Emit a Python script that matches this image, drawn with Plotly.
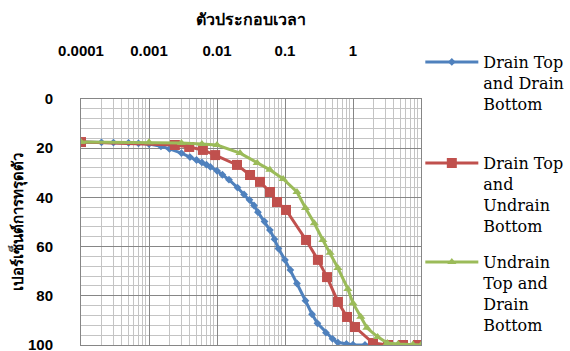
import plotly.graph_objects as go

# Time factor (x) and percent settlement (y) for the three drainage cases
blue_name = "Drain Top<br>and Drain<br>Bottom"
red_name = "Drain Top<br>and<br>Undrain<br>Bottom"
green_name = "Undrain<br>Top and<br>Drain<br>Bottom"

blue_x = [0.0001, 0.0002, 0.0003, 0.0005, 0.0007, 0.001, 0.0015, 0.002, 0.003, 0.004,
          0.005, 0.006, 0.007, 0.008, 0.01, 0.012, 0.015, 0.02, 0.025, 0.03, 0.035,
          0.04, 0.05, 0.06, 0.07, 0.08, 0.1, 0.12, 0.15, 0.2, 0.25, 0.3, 0.4, 0.5,
          0.6, 0.8, 1.0, 1.5, 2.0]
blue_y = [17.5, 17.6, 17.7, 17.8, 18.0, 18.3, 19.2, 20.3, 22.0, 23.6,
          24.8, 25.8, 26.7, 27.6, 29.2, 30.8, 32.8, 36.0, 38.8, 41.0, 43.3,
          46.0, 49.8, 53.3, 57.0, 60.8, 65.4, 69.5, 75.0, 82.0, 87.5, 91.2, 95.0, 97.5,
          99.0, 99.6, 99.9, 100, 100]

red_x = [0.0001, 0.0024, 0.0039, 0.0062, 0.0094, 0.0197, 0.0306, 0.0429, 0.0602, 0.0763,
         0.1035, 0.204, 0.305, 0.415, 0.601, 0.817, 1.07, 1.97, 3.27, 5.44, 9.04]
red_y = [17.5, 18.7, 19.5, 20.7, 22.8, 26.8, 30.9, 33.7, 37.8, 41.9,
         45.1, 57.3, 65.4, 72.4, 82.5, 88.6, 92.7, 99.2, 100, 100, 100]

green_x = [0.0001, 0.001, 0.003, 0.006, 0.01, 0.0218, 0.039, 0.06, 0.094, 0.15,
           0.2, 0.27, 0.36, 0.46, 0.6, 0.84, 1.0, 1.3, 1.6, 2.3, 3.2, 4.6, 7.6, 10]
green_y = [17.5, 17.6, 17.9, 18.3, 18.7, 22.0, 26.0, 28.8, 32.5, 37.8,
           44.3, 50.5, 57.3, 62.5, 68.7, 77.2, 83.0, 88.5, 93.0, 96.7, 99.2, 99.6, 99.8, 100]

x_tickvals = [0.0001, 0.001, 0.01, 0.1, 1]
x_ticktext = ["0.0001", "0.001", "0.01", "0.1", "1"]
y_tickvals = [0, 20, 40, 60, 80, 100]

x_title = "ตัวประกอบเวลา"
y_title = "เปอร์เซ็นต์การทรุดตัว"

BLUE = "#4F81BD"
RED = "#C0504D"
GREEN = "#9BBB59"

fig = go.Figure()
fig.add_trace(go.Scatter(x=blue_x, y=blue_y, name=blue_name, mode="lines+markers",
                         line=dict(color=BLUE, width=3),
                         marker=dict(symbol="diamond", size=6, color=BLUE),
                         legend="legend"))
fig.add_trace(go.Scatter(x=red_x, y=red_y, name=red_name, mode="lines+markers",
                         line=dict(color=RED, width=3),
                         marker=dict(symbol="square", size=10, color=RED),
                         legend="legend2"))
fig.add_trace(go.Scatter(x=green_x, y=green_y, name=green_name, mode="lines+markers",
                         line=dict(color=GREEN, width=3),
                         marker=dict(symbol="triangle-up", size=8, color=GREEN),
                         legend="legend3"))

SERIF = "DejaVu Serif"
SANS = "Liberation Sans"
legend_common = dict(
    xanchor="left", yanchor="top", valign="top",
    font=dict(family=SERIF, size=16, color="black"),
    bgcolor="rgba(0,0,0,0)", itemwidth=53, borderwidth=0,
)

fig.update_layout(
    width=570, height=351,
    margin=dict(l=81, r=149, t=99, b=6, autoexpand=False),
    paper_bgcolor="white", plot_bgcolor="white",
    showlegend=True,
    legend=dict(x=0.998, y=(345 - 45) / 246, **legend_common),
    legend2=dict(x=0.998, y=(345 - 146) / 246, **legend_common),
    legend3=dict(x=0.998, y=(345 - 245) / 246, **legend_common),
    xaxis=dict(
        type="log", range=[-4, 1], side="top",
        tickvals=x_tickvals, ticktext=x_ticktext,
        tickfont=dict(family=SANS, size=15, color="black", weight="bold"),
        ticklabelstandoff=36, ticklabeloverflow="allow",
        showgrid=True, gridcolor="#868686", gridwidth=1,
        minor=dict(dtick="D1", showgrid=True, gridcolor="#c4c4c4", gridwidth=1),
        showline=True, linecolor="#868686", linewidth=1, mirror=True,
        ticks="", zeroline=False,
        title=dict(text=x_title, standoff=12,
                   font=dict(family="Noto Sans, DejaVu Sans", size=16, color="black", weight="bold")),
    ),
    yaxis=dict(
        range=[100, 0], tickvals=y_tickvals,
        tickfont=dict(family=SANS, size=15, color="black", weight="bold"),
        ticklabelstandoff=24, ticklabeloverflow="allow",
        showgrid=True, gridcolor="#868686", gridwidth=1,
        minor=dict(dtick=4, showgrid=True, gridcolor="#c4c4c4", gridwidth=1),
        showline=True, linecolor="#868686", linewidth=1, mirror=True,
        ticks="", zeroline=False,
        title=dict(text=y_title, standoff=0,
                   font=dict(family="Noto Sans, DejaVu Sans", size=15, color="black", weight="bold")),
    ),
)

fig.write_html("out.html")
